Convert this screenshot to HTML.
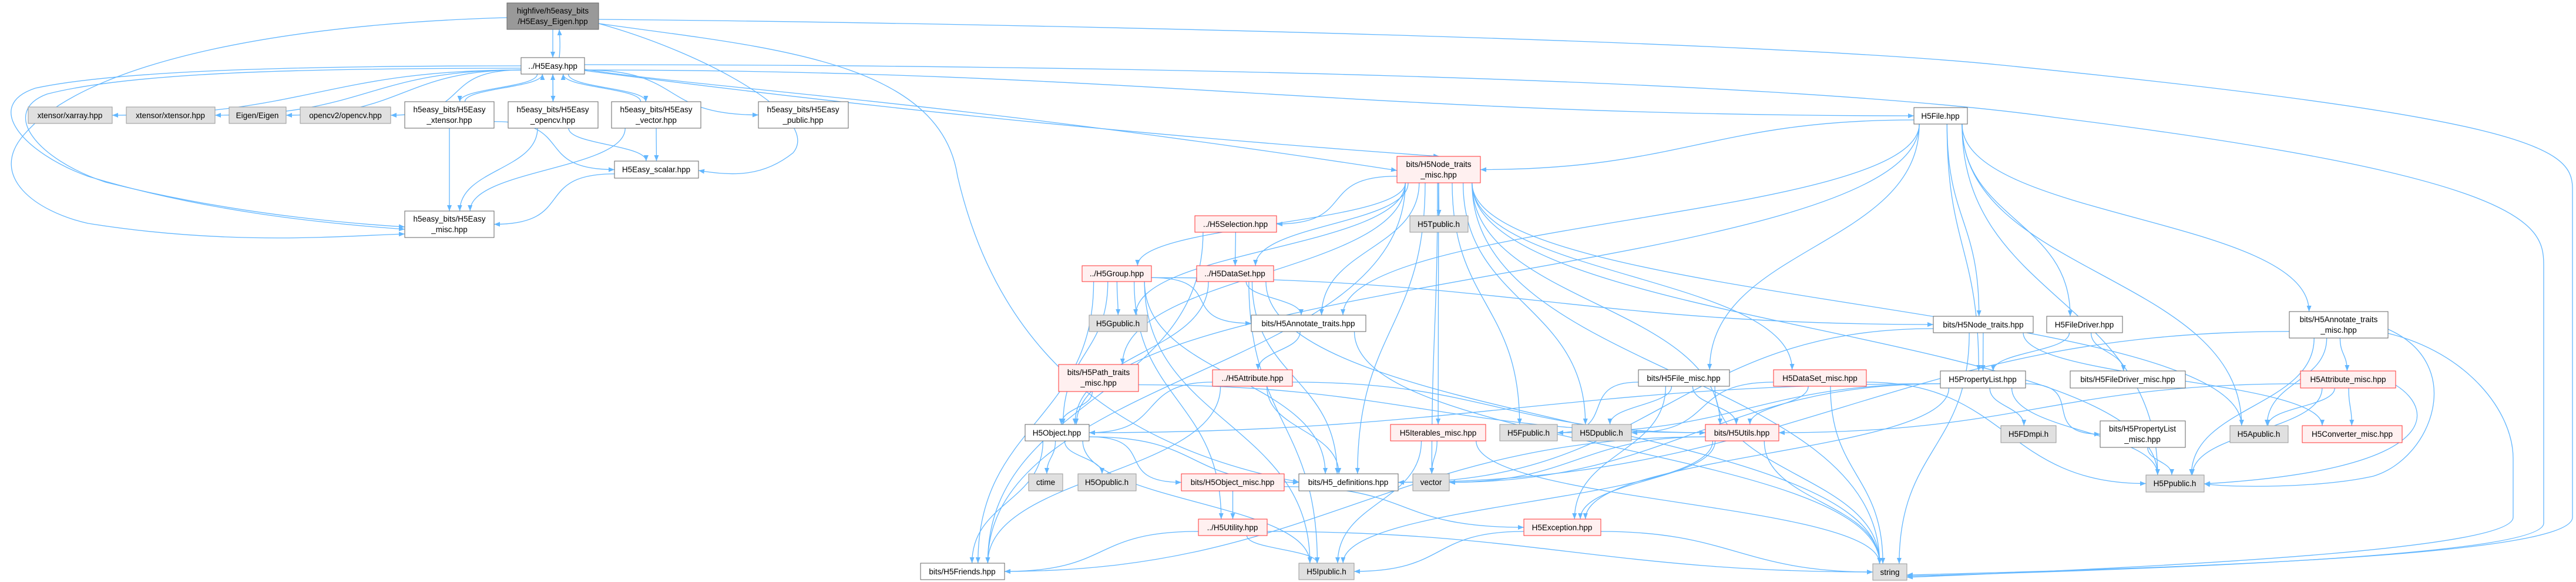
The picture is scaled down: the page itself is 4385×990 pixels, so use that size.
<!DOCTYPE html>
<html><head><meta charset="utf-8"><style>
html,body{margin:0;padding:0;background:#fff;}
svg{display:block;}
text{font-family:"Liberation Sans","DejaVu Sans",sans-serif;font-size:13.5px;fill:#000;}
</style></head><body>
<svg id="g" width="4385" height="990" viewBox="0 0 4385 990" xmlns="http://www.w3.org/2000/svg">
<defs><marker id="a" markerUnits="userSpaceOnUse" markerWidth="11" markerHeight="8" refX="10" refY="4" orient="auto"><path d="M0,0 L10,4 L0,8 z" fill="#63b7ff"/></marker></defs>
<g id="edges" fill="none" stroke="#63b7ff" stroke-width="1.3"></g>
<g id="nodes">
<rect x="863" y="5" width="156" height="45" fill="#999" stroke="#666"/><text x="941" y="23" text-anchor="middle">highfive/h5easy_bits</text><text x="941" y="41" text-anchor="middle">/H5Easy_Eigen.hpp</text>
<rect x="887" y="98" width="108" height="28" fill="#fff" stroke="#666"/><text x="941" y="117" text-anchor="middle">../H5Easy.hpp</text>
<rect x="48" y="182" width="143" height="28" fill="#e0e0e0" stroke="#999"/><text x="119" y="201" text-anchor="middle">xtensor/xarray.hpp</text>
<rect x="215" y="182" width="151" height="28" fill="#e0e0e0" stroke="#999"/><text x="290" y="201" text-anchor="middle">xtensor/xtensor.hpp</text>
<rect x="390" y="182" width="97" height="28" fill="#e0e0e0" stroke="#999"/><text x="438" y="201" text-anchor="middle">Eigen/Eigen</text>
<rect x="511" y="182" width="154" height="28" fill="#e0e0e0" stroke="#999"/><text x="588" y="201" text-anchor="middle">opencv2/opencv.hpp</text>
<rect x="689" y="173" width="152" height="45" fill="#fff" stroke="#666"/><text x="765" y="191" text-anchor="middle">h5easy_bits/H5Easy</text><text x="765" y="209" text-anchor="middle">_xtensor.hpp</text>
<rect x="865" y="173" width="153" height="45" fill="#fff" stroke="#666"/><text x="941" y="191" text-anchor="middle">h5easy_bits/H5Easy</text><text x="941" y="209" text-anchor="middle">_opencv.hpp</text>
<rect x="1041" y="173" width="152" height="45" fill="#fff" stroke="#666"/><text x="1117" y="191" text-anchor="middle">h5easy_bits/H5Easy</text><text x="1117" y="209" text-anchor="middle">_vector.hpp</text>
<rect x="1291" y="173" width="153" height="45" fill="#fff" stroke="#666"/><text x="1367" y="191" text-anchor="middle">h5easy_bits/H5Easy</text><text x="1367" y="209" text-anchor="middle">_public.hpp</text>
<rect x="1046" y="274" width="143" height="29" fill="#fff" stroke="#666"/><text x="1117" y="293" text-anchor="middle">H5Easy_scalar.hpp</text>
<rect x="689" y="359" width="152" height="45" fill="#fff" stroke="#666"/><text x="765" y="377" text-anchor="middle">h5easy_bits/H5Easy</text><text x="765" y="395" text-anchor="middle">_misc.hpp</text>
<rect x="3258" y="183" width="91" height="28" fill="#fff" stroke="#666"/><text x="3303" y="202" text-anchor="middle">H5File.hpp</text>
<rect x="2378" y="266" width="142" height="45" fill="#fff0f0" stroke="#f33"/><text x="2449" y="284" text-anchor="middle">bits/H5Node_traits</text><text x="2449" y="302" text-anchor="middle">_misc.hpp</text>
<rect x="2034" y="367" width="139" height="28" fill="#fff0f0" stroke="#f33"/><text x="2103" y="386" text-anchor="middle">../H5Selection.hpp</text>
<rect x="2400" y="367" width="99" height="28" fill="#e0e0e0" stroke="#999"/><text x="2449" y="386" text-anchor="middle">H5Tpublic.h</text>
<rect x="1842" y="452" width="118" height="27" fill="#fff0f0" stroke="#f33"/><text x="1901" y="470" text-anchor="middle">../H5Group.hpp</text>
<rect x="2037" y="452" width="131" height="27" fill="#fff0f0" stroke="#f33"/><text x="2102" y="470" text-anchor="middle">../H5DataSet.hpp</text>
<rect x="1854" y="536" width="99" height="28" fill="#e0e0e0" stroke="#999"/><text x="1903" y="555" text-anchor="middle">H5Gpublic.h</text>
<rect x="2130" y="536" width="195" height="28" fill="#fff" stroke="#666"/><text x="2227" y="555" text-anchor="middle">bits/H5Annotate_traits.hpp</text>
<rect x="3291" y="538" width="170" height="28" fill="#fff" stroke="#666"/><text x="3376" y="557" text-anchor="middle">bits/H5Node_traits.hpp</text>
<rect x="3484" y="538" width="129" height="28" fill="#fff" stroke="#666"/><text x="3548" y="557" text-anchor="middle">H5FileDriver.hpp</text>
<rect x="3897" y="530" width="168" height="45" fill="#fff" stroke="#666"/><text x="3981" y="548" text-anchor="middle">bits/H5Annotate_traits</text><text x="3981" y="566" text-anchor="middle">_misc.hpp</text>
<rect x="1802" y="620" width="136" height="46" fill="#fff0f0" stroke="#f33"/><text x="1870" y="638" text-anchor="middle">bits/H5Path_traits</text><text x="1870" y="656" text-anchor="middle">_misc.hpp</text>
<rect x="2064" y="629" width="136" height="28" fill="#fff0f0" stroke="#f33"/><text x="2132" y="648" text-anchor="middle">../H5Attribute.hpp</text>
<rect x="2789" y="629" width="155" height="28" fill="#fff" stroke="#666"/><text x="2866" y="648" text-anchor="middle">bits/H5File_misc.hpp</text>
<rect x="3019" y="629" width="158" height="28" fill="#fff0f0" stroke="#f33"/><text x="3098" y="648" text-anchor="middle">H5DataSet_misc.hpp</text>
<rect x="3303" y="631" width="145" height="29" fill="#fff" stroke="#666"/><text x="3375" y="650" text-anchor="middle">H5PropertyList.hpp</text>
<rect x="3524" y="631" width="196" height="29" fill="#fff" stroke="#666"/><text x="3622" y="650" text-anchor="middle">bits/H5FileDriver_misc.hpp</text>
<rect x="3916" y="631" width="162" height="29" fill="#fff0f0" stroke="#f33"/><text x="3997" y="650" text-anchor="middle">H5Attribute_misc.hpp</text>
<rect x="1745" y="722" width="109" height="28" fill="#fff" stroke="#666"/><text x="1799" y="741" text-anchor="middle">H5Object.hpp</text>
<rect x="2367" y="722" width="162" height="28" fill="#fff0f0" stroke="#f33"/><text x="2448" y="741" text-anchor="middle">H5Iterables_misc.hpp</text>
<rect x="2553" y="722" width="98" height="28" fill="#e0e0e0" stroke="#999"/><text x="2602" y="741" text-anchor="middle">H5Fpublic.h</text>
<rect x="2676" y="722" width="101" height="28" fill="#e0e0e0" stroke="#999"/><text x="2726" y="741" text-anchor="middle">H5Dpublic.h</text>
<rect x="2903" y="722" width="125" height="28" fill="#fff0f0" stroke="#f33"/><text x="2965" y="741" text-anchor="middle">bits/H5Utils.hpp</text>
<rect x="3406" y="724" width="94" height="29" fill="#e0e0e0" stroke="#999"/><text x="3453" y="743" text-anchor="middle">H5FDmpi.h</text>
<rect x="3575" y="716" width="145" height="45" fill="#fff" stroke="#666"/><text x="3647" y="734" text-anchor="middle">bits/H5PropertyList</text><text x="3647" y="752" text-anchor="middle">_misc.hpp</text>
<rect x="3796" y="724" width="99" height="29" fill="#e0e0e0" stroke="#999"/><text x="3845" y="743" text-anchor="middle">H5Apublic.h</text>
<rect x="3919" y="724" width="170" height="29" fill="#fff0f0" stroke="#f33"/><text x="4004" y="743" text-anchor="middle">H5Converter_misc.hpp</text>
<rect x="1751" y="806" width="58" height="29" fill="#e0e0e0" stroke="#999"/><text x="1780" y="825" text-anchor="middle">ctime</text>
<rect x="1835" y="806" width="99" height="29" fill="#e0e0e0" stroke="#999"/><text x="1884" y="825" text-anchor="middle">H5Opublic.h</text>
<rect x="2011" y="806" width="175" height="29" fill="#fff0f0" stroke="#f33"/><text x="2098" y="825" text-anchor="middle">bits/H5Object_misc.hpp</text>
<rect x="2211" y="806" width="169" height="29" fill="#fff" stroke="#666"/><text x="2295" y="825" text-anchor="middle">bits/H5_definitions.hpp</text>
<rect x="2405" y="806" width="62" height="29" fill="#e0e0e0" stroke="#999"/><text x="2436" y="825" text-anchor="middle">vector</text>
<rect x="3653" y="808" width="99" height="29" fill="#e0e0e0" stroke="#999"/><text x="3702" y="827" text-anchor="middle">H5Ppublic.h</text>
<rect x="2040" y="883" width="117" height="28" fill="#fff0f0" stroke="#f33"/><text x="2098" y="902" text-anchor="middle">../H5Utility.hpp</text>
<rect x="2594" y="883" width="131" height="28" fill="#fff0f0" stroke="#f33"/><text x="2659" y="902" text-anchor="middle">H5Exception.hpp</text>
<rect x="1567" y="958" width="143" height="28" fill="#fff" stroke="#666"/><text x="1638" y="977" text-anchor="middle">bits/H5Friends.hpp</text>
<rect x="2211" y="958" width="94" height="28" fill="#e0e0e0" stroke="#999"/><text x="2258" y="977" text-anchor="middle">H5Ipublic.h</text>
<rect x="3188" y="959" width="58" height="28" fill="#e0e0e0" stroke="#999"/><text x="3217" y="978" text-anchor="middle">string</text>
</g>
</svg>
<script>
var N={E:[863,5,1019,50],HE:[887,98,995,126],xa:[48,182,191,210],xt:[215,182,366,210],EE:[390,182,487,210],ocv:[511,182,665,210],
Bx:[689,173,841,218],Bo:[865,173,1018,218],Bv:[1041,173,1193,218],Bp:[1291,173,1444,218],S:[1046,274,1189,303],M:[689,359,841,404],
F:[3258,183,3349,211],NTM:[2378,266,2520,311],Sel:[2034,367,2173,395],Tp:[2400,367,2499,395],G:[1842,452,1960,479],DS:[2037,452,2168,479],
Gp:[1854,536,1953,564],AT:[2130,536,2325,564],NT:[3291,538,3461,566],FD:[3484,538,3613,566],ATM:[3897,530,4065,575],PT:[1802,620,1938,666],
At:[2064,629,2200,657],FM:[2789,629,2944,657],DSM:[3019,629,3177,657],PL:[3303,631,3448,660],FDM:[3524,631,3720,660],AM:[3916,631,4078,660],
O:[1745,722,1854,750],IM:[2367,722,2529,750],Fp:[2553,722,2651,750],Dp:[2676,722,2777,750],U:[2903,722,3028,750],FDmpi:[3406,724,3500,753],
PLM:[3575,716,3720,761],Ap:[3796,724,3895,753],CM:[3919,724,4089,753],ct:[1751,806,1809,835],Op:[1835,806,1934,835],OM:[2011,806,2186,835],
D:[2211,806,2380,835],V:[2405,806,2467,835],Pp:[3653,808,3752,837],Ut:[2040,883,2157,911],Ex:[2594,883,2725,911],Fr:[1567,958,1710,986],
Ip:[2211,958,2305,986],Str:[3188,959,3246,987]};
var g=document.getElementById('edges'),ns='http://www.w3.org/2000/svg';
function P(d){var p=document.createElementNS(ns,'path');p.setAttribute('d',d);p.setAttribute('marker-end','url(#a)');g.appendChild(p);}
function E(a,b){var s=N[a],t=N[b];var scx=(s[0]+s[2])/2,tcx=(t[0]+t[2])/2,scy=(s[1]+s[3])/2,tcy=(t[1]+t[3])/2;
 var sw=(s[2]-s[0])/2,tw=(t[2]-t[0])/2;var dx=tcx-scx;
 if(t[1]>s[3]+8){var sx=scx+Math.max(-sw*0.8,Math.min(sw*0.8,dx*0.15)),sy=s[3];
  var ex=tcx-Math.max(-tw*0.6,Math.min(tw*0.6,dx*0.1)),ey=t[1];
  if(Math.abs(dx)>4*(t[1]-s[3])){ // wide: exit side
   sx=dx>0?s[2]:s[0];sy=scy+ (s[3]-scy)*0.5; ex=dx>0?t[0]:t[2]; ey=tcy; 
   P('M'+sx+','+sy+' C'+(sx+dx*0.4)+','+sy+' '+(ex-dx*0.4)+','+ey+' '+ex+','+ey);return;}
  var h=ey-sy;P('M'+sx+','+sy+' C'+sx+','+(sy+h*0.5)+' '+ex+','+(ey-h*0.5)+' '+ex+','+ey);}
 else if(s[1]>t[3]+8){var sx=scx+Math.max(-sw*0.8,Math.min(sw*0.8,dx*0.15)),sy=s[1];var ex=tcx-Math.max(-tw*0.6,Math.min(tw*0.6,dx*0.1)),ey=t[3];
  var h=ey-sy;P('M'+sx+','+sy+' C'+sx+','+(sy+h*0.5)+' '+ex+','+(ey-h*0.5)+' '+ex+','+ey);}
 else{var sx=dx>0?s[2]:s[0],ex=dx>0?t[0]:t[2];P('M'+sx+','+scy+' C'+(sx+dx*0.4)+','+scy+' '+(ex-dx*0.4)+','+tcy+' '+ex+','+tcy);}}
var L=[['E','HE'],['Bx','HE'],['Bo','HE'],['Bv','HE'],['HE','xa'],['HE','xt'],['HE','EE'],['HE','ocv'],['HE','Bx'],['HE','Bo'],['HE','Bv'],['HE','Bp'],
['Bx','M'],['Bx','S'],['Bo','M'],['Bo','S'],['Bv','M'],['Bv','S'],['S','M'],['HE','F'],
['F','NTM'],['F','NT'],['F','FD'],['F','ATM'],['F','PL'],['F','FM'],['F','O'],['F','Ap'],['F','Pp'],['F','AT'],
['NTM','Sel'],['NTM','DS'],['NTM','Tp'],['NTM','G'],['NTM','Gp'],['NTM','AT'],['NTM','IM'],['NTM','Fp'],['NTM','Dp'],['NTM','DSM'],['NTM','U'],['NTM','D'],['NTM','V'],['NTM','Str'],['NTM','Ap'],['NTM','Pp'],['NTM','PT'],['NTM','Fr'],
['Sel','DS'],['Sel','Fr'],['G','Gp'],['G','AT'],['G','O'],['G','Fr'],['G','D'],['G','Ip'],['G','NT'],['G','Ut'],
['DS','AT'],['DS','O'],['DS','D'],['DS','Str'],['DS','Ip'],['AT','At'],['AT','Str'],['At','O'],['At','D'],['At','U'],['At','Fr'],
['PT','O'],['PT','U'],['O','ct'],['O','Op'],['O','OM'],['O','D'],['O','Fr'],['O','Ip'],['OM','Ut'],['OM','Ex'],['Ut','Fr'],['Ut','Str'],['Ut','Ip'],
['IM','V'],['IM','Str'],['IM','Ip'],['FM','Fp'],['FM','U'],['FM','Ex'],['FM','Str'],['FM','Dp'],['DSM','Dp'],['DSM','U'],['DSM','Str'],['DSM','Pp'],
['U','V'],['U','Ex'],['U','Fr'],['U','Str'],['U','Ip'],['Ex','Ip'],['Ex','Str'],['NT','PL'],['NT','Str'],['NT','D'],['NT','CM'],['FD','PL'],['FD','FDM'],
['PL','FDmpi'],['PL','PLM'],['PL','Pp'],['PL','O'],['PL','Fp'],['PL','Ex'],['PL','V'],['PLM','Pp'],['ATM','AM'],['ATM','Ap'],['ATM','Pp'],['ATM','D'],
['AM','Ap'],['AM','CM'],['AM','Pp'],['AM','U']];
L.forEach(function(e){E(e[0],e[1]);});
// back edge HE->E
P('M952,98 C954,80 953,65 952,50');
// long hand-tuned edges
P('M863,30 C500,40 150,100 40,230 C-20,300 60,360 150,380 C400,420 600,400 689,398');
P('M887,112 C500,112 200,120 60,150 C-30,180 40,260 150,300 C350,360 550,380 689,390');
P('M887,116 C500,116 220,124 80,160 C0,190 60,270 180,310 C380,360 560,378 689,386');
P('M1019,40 C1300,80 1600,100 1630,300 C1700,600 1900,760 2211,820');
P('M1019,40 C1200,90 1400,200 1350,260 C1300,300 1250,300 1189,290');
P('M1019,33 C1800,40 3000,70 3400,110 C4300,200 4379,250 4379,320 L4379,880 C4379,930 4000,960 3246,978');
P('M995,110 C1800,110 3000,130 3500,200 C4300,300 4330,380 4330,450 L4330,890 C4330,940 3800,965 3246,980');
P('M4065,567 C4200,600 4278,700 4278,780 L4278,880 C4278,930 3800,960 3246,982');
P('M4065,560 C4200,620 4140,780 4040,810 C3950,830 3800,830 3752,823');
P('M4078,655 C4150,700 4150,800 3752,823');
P('M995,118 C1200,150 1600,170 2378,290');
P('M995,120 C1300,160 1800,220 2450,266');
</script>
</body></html>
